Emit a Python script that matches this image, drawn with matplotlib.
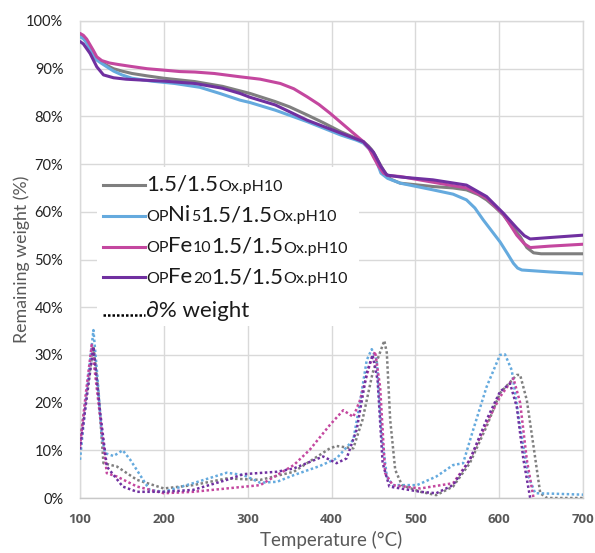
import matplotlib
matplotlib.use("Agg")
import matplotlib.pyplot as plt
from matplotlib.lines import Line2D
from matplotlib.patches import Rectangle
from matplotlib.ticker import FuncFormatter

# ---------------- data ----------------
gray_T = [100, 104, 108, 112, 116, 120, 125, 132, 140, 150, 162, 180, 200, 237, 270, 303, 333, 350, 371, 390, 411, 428, 438, 444, 448, 452, 455, 459, 463, 467, 471, 482, 521, 545, 561, 575, 585, 595, 605, 615, 625, 633, 641, 650, 660, 700]
gray_W = [96.9, 96.5, 95.6, 94.3, 92.9, 92.0, 91.4, 90.7, 90.0, 89.5, 89.0, 88.5, 88.0, 87.3, 86.3, 84.8, 83.1, 82.0, 80.3, 78.7, 76.8, 75.5, 74.7, 73.8, 73.0, 71.9, 70.9, 69.6, 68.4, 67.5, 66.8, 66.0, 65.3, 65.0, 64.6, 63.6, 62.5, 61.0, 59.3, 57.0, 54.8, 52.5, 51.4, 51.2, 51.2, 51.2]

blue_T = [100, 104, 108, 112, 116, 120, 125, 132, 140, 150, 162, 185, 213, 243, 267, 291, 303, 333, 371, 411, 430, 438, 446, 453, 459, 467, 482, 521, 545, 561, 571, 581, 591, 601, 610, 617, 622, 627, 660, 700]
blue_W = [96.7, 96.3, 95.4, 94.0, 92.6, 91.8, 91.2, 90.4, 89.5, 88.7, 88.0, 87.4, 86.9, 86.1, 84.8, 83.4, 82.9, 81.3, 78.9, 76.1, 75.0, 74.4, 73.0, 70.9, 68.1, 67.0, 66.0, 64.6, 63.7, 62.5, 60.8, 58.3, 56.0, 53.7, 51.2, 49.2, 48.2, 47.8, 47.4, 47.0]

pink_T = [100, 104, 108, 112, 116, 120, 126, 135, 145, 160, 180, 200, 219, 237, 260, 291, 315, 339, 355, 371, 385, 398, 412, 426, 438, 445, 450, 456, 462, 468, 482, 521, 561, 585, 605, 621, 630, 637, 660, 700]
pink_W = [97.4, 97.0, 96.2, 95.0, 93.8, 92.5, 91.7, 91.2, 90.9, 90.5, 90.0, 89.7, 89.4, 89.3, 89.0, 88.3, 87.8, 86.9, 85.8, 84.1, 82.5, 80.7, 78.6, 76.5, 74.7, 73.2, 71.5, 69.6, 68.1, 67.6, 67.4, 66.2, 65.0, 62.9, 59.5, 55.1, 53.3, 52.5, 52.8, 53.2]

purple_T = [100, 104, 108, 112, 116, 120, 128, 140, 155, 175, 200, 237, 270, 291, 303, 333, 371, 411, 438, 450, 459, 466, 482, 521, 561, 585, 605, 621, 630, 637, 660, 700]
purple_W = [95.7, 95.2, 94.2, 93.2, 91.8, 90.4, 88.7, 88.1, 87.8, 87.6, 87.4, 86.9, 85.9, 84.8, 84.0, 82.4, 79.2, 76.5, 74.7, 72.5, 69.5, 67.7, 67.3, 66.7, 65.6, 63.2, 59.7, 56.6, 55.0, 54.3, 54.6, 55.1]

# derivative curves (dotted)
dgray_T = [100, 108, 116, 122, 128, 144, 168, 200, 235, 275, 315, 355, 398, 406, 426, 437, 449, 463, 466, 470, 476, 484, 506, 525, 545, 565, 585, 601, 621, 625, 633, 641, 649, 657, 700]
dgray_V = [12, 22, 31.7, 22, 7.3, 6.6, 3.8, 2.0, 2.7, 4.1, 3.8, 5.5, 10.4, 10.9, 10.4, 16.4, 26.2, 33.0, 30.4, 16.4, 5.9, 2.7, 1.3, 0.6, 2.4, 7.3, 15.0, 22.0, 25.8, 25.8, 20.5, 10.8, 1.0, 0.0, 0.0]

dblue_T = [100, 108, 116, 121, 126, 130, 140, 151, 160, 183, 200, 235, 275, 295, 315, 335, 355, 386, 406, 426, 434, 442, 448, 454, 460, 466, 473, 502, 525, 545, 557, 569, 585, 601, 607, 615, 625, 635, 643, 665, 700]
dblue_V = [8, 22, 35.2, 25, 12.9, 9.4, 8.8, 10.0, 8.0, 1.7, 1.3, 3.1, 5.3, 4.8, 3.2, 3.4, 4.8, 6.7, 8.3, 12.2, 20.0, 28.9, 31.2, 28.9, 12.9, 4.5, 2.7, 2.7, 4.5, 6.9, 7.3, 14.3, 23.3, 30.0, 30.1, 26.8, 14.9, 4.5, 1.0, 0.9, 0.7]

dpink_T = [100, 107, 114, 122, 132, 144, 168, 200, 235, 275, 315, 355, 374, 398, 414, 426, 434, 446, 452, 458, 464, 473, 506, 545, 565, 585, 601, 617, 625, 633, 641]
dpink_V = [10.8, 22, 32.1, 20, 5.2, 4.5, 2.4, 1.0, 1.3, 2.0, 2.7, 6.9, 10.1, 15.3, 18.4, 17.0, 20.5, 28.2, 30.7, 23.3, 5.2, 2.7, 2.0, 3.1, 8.0, 15.7, 21.2, 25.1, 20.0, 8.0, 0.0]

dpurple_T = [100, 108, 116, 124, 132, 151, 168, 200, 235, 275, 295, 335, 355, 390, 406, 418, 430, 442, 449, 455, 461, 469, 506, 525, 545, 565, 585, 601, 613, 621, 629, 637]
dpurple_V = [10.2, 21, 31.7, 18, 6.6, 2.4, 1.3, 1.3, 1.7, 3.8, 5.0, 5.5, 6.2, 8.7, 7.3, 8.3, 14.3, 26.2, 30.0, 24.7, 7.3, 2.4, 1.3, 1.0, 2.7, 8.0, 16.4, 22.3, 24.0, 19.1, 8.0, 0.0]

x_ticks = [100, 200, 300, 400, 500, 600, 700]
y_ticks = [0, 10, 20, 30, 40, 50, 60, 70, 80, 90, 100]

C_GRAY = "#7f7f7f"
C_BLUE = "#65aade"
C_PINK = "#c4479f"
C_PURPLE = "#7030a0"

FONT = ["Lato", "DejaVu Sans"]

# ---------------- figure ----------------
W, H = 595, 553
fig = plt.figure(figsize=(W / 100, H / 100), dpi=100)
ax = fig.add_axes([80 / W, 1 - 498 / H, (583 - 80) / W, (498 - 21) / H])

solid_lw = 2.2
dot_ls = (0, (1, 1.0))
dot_lw = 1.8
for T, V, c in [(gray_T, gray_W, C_GRAY), (blue_T, blue_W, C_BLUE),
                (pink_T, pink_W, C_PINK), (purple_T, purple_W, C_PURPLE)]:
    ax.plot(T, V, color=c, lw=solid_lw, solid_capstyle="round", solid_joinstyle="round", zorder=3)
for T, V, c in [(dgray_T, dgray_V, C_GRAY), (dblue_T, dblue_V, C_BLUE),
                (dpink_T, dpink_V, C_PINK), (dpurple_T, dpurple_V, C_PURPLE)]:
    ax.plot(T, V, color=c, lw=dot_lw, linestyle=dot_ls, zorder=3)

ax.set_xlim(100, 700)
ax.set_ylim(0, 100)
ax.set_xticks(x_ticks)
ax.set_yticks(y_ticks)
ax.yaxis.set_major_formatter(FuncFormatter(lambda v, p: f"{int(v)}%"))
ax.grid(True, color="#d9d9d9", lw=1)
ax.set_axisbelow(True)
for s in ax.spines.values():
    s.set_color("#d9d9d9")
    s.set_linewidth(1)
ax.spines["bottom"].set_color("#c8c8c8")
ax.tick_params(length=0)
ax.tick_params(axis="x", pad=11)
ax.tick_params(axis="y", pad=12)
for lab in ax.get_xticklabels():
    lab.set_fontfamily(["Open Sans", "DejaVu Sans"])
    lab.set_fontweight("bold")
    lab.set_fontsize(9.5)
    lab.set_color("#595959")
for lab in ax.get_yticklabels():
    lab.set_fontfamily(FONT)
    lab.set_fontsize(10.5)
    lab.set_color("#222222")

ax.set_xlabel("Temperature (°C)", fontfamily=FONT, fontsize=13.5, color="#595959", labelpad=3)
fig.text(22 / W, 1 - 259.5 / H, "Remaining weight (%)", rotation=90, ha="center", va="center",
         fontfamily=FONT, fontsize=12.8, color="#595959")

# legend background
ax.add_patch(Rectangle((97 / W, 1 - 326 / H), (359 - 97) / W, (326 - 167) / H,
                       transform=fig.transFigure, facecolor="white", edgecolor="none", zorder=1))

# ---------------- custom legend ----------------
BIG, SMALL = 16, 11.5
legend_rows = [
    (C_GRAY, "-", [("1.5/1.5", BIG), ("Ox.pH10", SMALL)]),
    (C_BLUE, "-", [("OP", SMALL), ("Ni", BIG), ("5", SMALL), ("1.5/1.5", BIG), ("Ox.pH10", SMALL)]),
    (C_PINK, "-", [("OP", SMALL), ("Fe", BIG), ("10", SMALL), ("1.5/1.5", BIG), ("Ox.pH10", SMALL)]),
    (C_PURPLE, "-", [("OP", SMALL), ("Fe", BIG), ("20", SMALL), ("1.5/1.5", BIG), ("Ox.pH10", SMALL)]),
    ("#000000", "dot", [("∂% weight", BIG)]),
]
baselines = [190.7, 221.5, 252.5, 283.0, 316.7]

renderer = fig.canvas.get_renderer()
for (color, style, parts), yb in zip(legend_rows, baselines):
    if style == "dot":
        ly = yb - 1.5
        ln = Line2D([103 / W, 145 / W], [1 - ly / H, 1 - ly / H], transform=fig.transFigure,
                    color=color, lw=1.8, linestyle=(0, (1, 0.8)))
    else:
        ly = yb - 5.7
        ln = Line2D([103 / W, 145 / W], [1 - ly / H, 1 - ly / H], transform=fig.transFigure,
                    color=color, lw=solid_lw)
    fig.add_artist(ln)
    x = 146.0
    for s, fs in parts:
        t = fig.text(x / W, 1 - yb / H, s, fontsize=fs, fontfamily=FONT, color="#1a1a1a",
                     ha="left", va="baseline")
        bb = t.get_window_extent(renderer)
        x += bb.width

fig.savefig("out.png", dpi=100)
